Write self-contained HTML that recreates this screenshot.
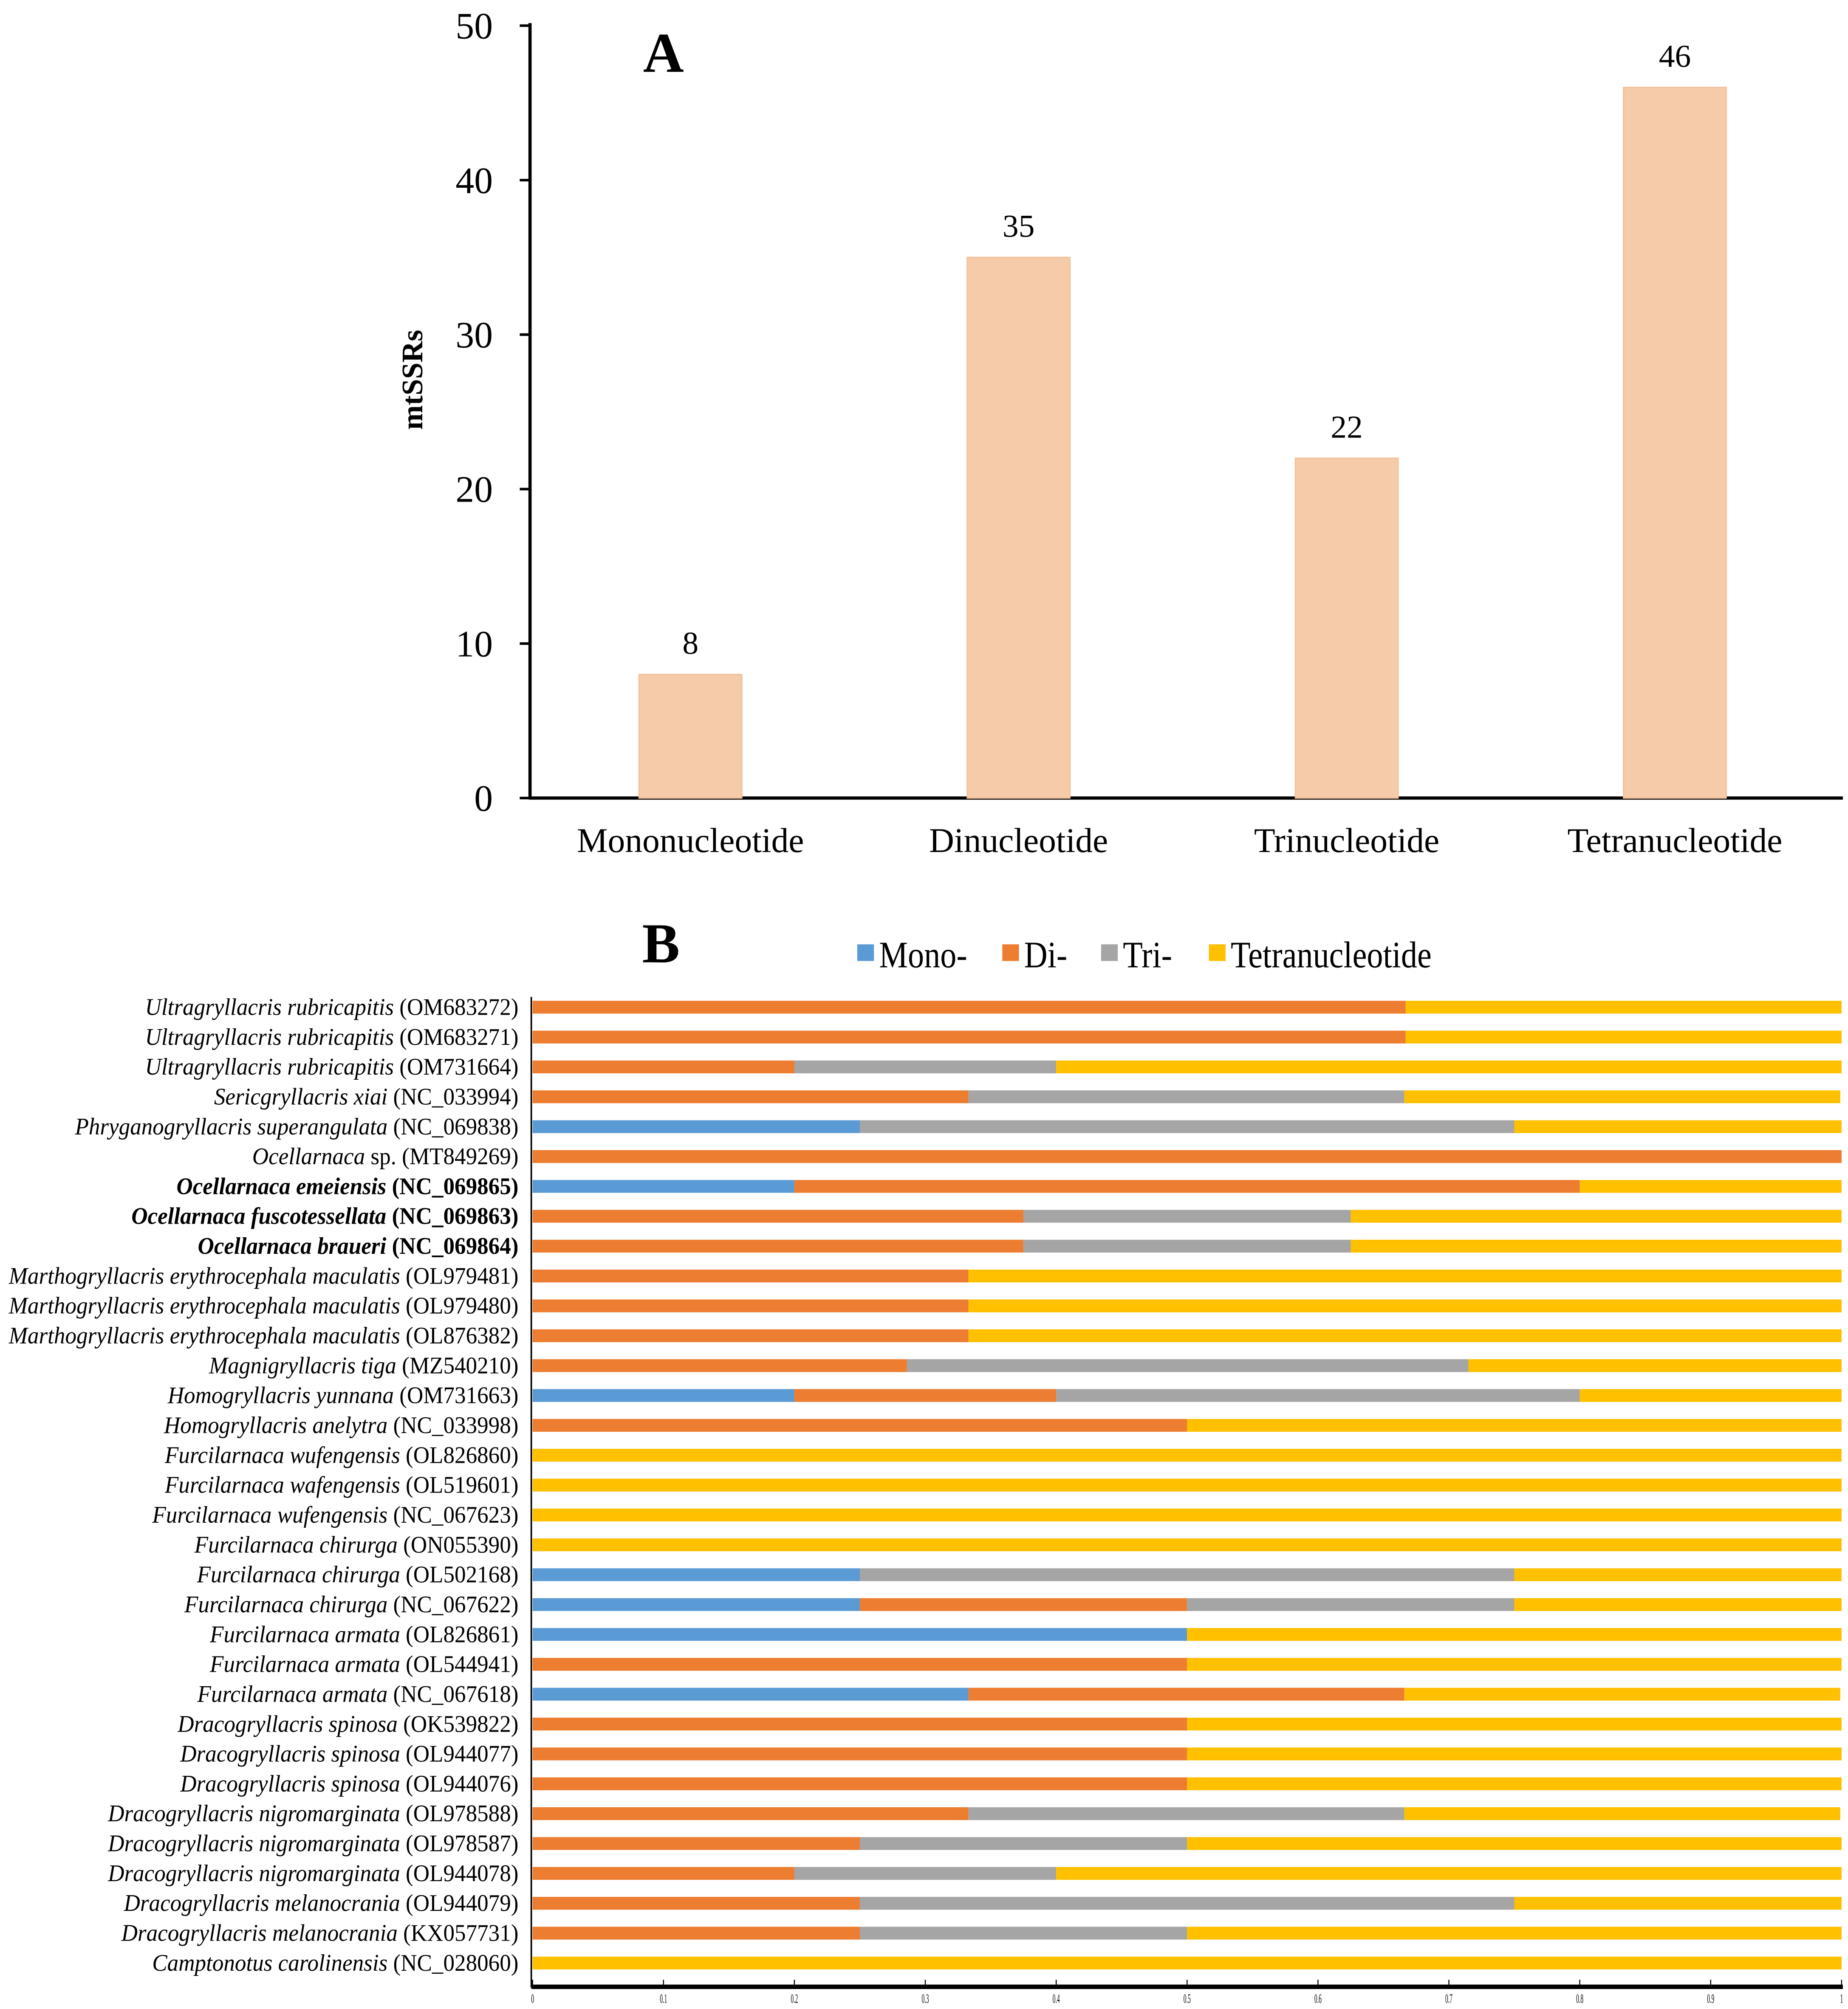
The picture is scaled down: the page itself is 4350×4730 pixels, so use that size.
<!DOCTYPE html>
<html><head><meta charset="utf-8"><style>html,body{margin:0;padding:0;background:#fff}svg{display:block}</style></head>
<body>
<svg id="fig" xmlns="http://www.w3.org/2000/svg" width="4350" height="4730" viewBox="0 0 1440 1565.8" font-family="Liberation Serif, serif">
<rect width="1440" height="1566" fill="#fff"/>
<g id="chartA"></g>
<g id="chartB"></g>
</svg>
<script>
const NS="http://www.w3.org/2000/svg";
// ---- Chart A data ----
const aCategories=["Mononucleotide","Dinucleotide","Trinucleotide","Tetranucleotide"];
const aValues=[8,35,22,46];
const aTicks=[0,10,20,30,40,50];
// ---- Chart B data ----
const bGenus=["Ultragryllacris  rubricapitis","Ultragryllacris  rubricapitis","Ultragryllacris  rubricapitis","Sericgryllacris xiai","Phryganogryllacris superangulata","Ocellarnaca","Ocellarnaca emeiensis","Ocellarnaca fuscotessellata","Ocellarnaca braueri","Marthogryllacris erythrocephala maculatis","Marthogryllacris erythrocephala maculatis","Marthogryllacris erythrocephala maculatis","Magnigryllacris tiga","Homogryllacris yunnana","Homogryllacris anelytra","Furcilarnaca wufengensis","Furcilarnaca wafengensis","Furcilarnaca wufengensis","Furcilarnaca chirurga","Furcilarnaca chirurga","Furcilarnaca chirurga","Furcilarnaca armata","Furcilarnaca armata","Furcilarnaca armata","Dracogryllacris spinosa","Dracogryllacris spinosa","Dracogryllacris spinosa","Dracogryllacris nigromarginata","Dracogryllacris nigromarginata","Dracogryllacris nigromarginata","Dracogryllacris melanocrania","Dracogryllacris melanocrania","Camptonotus carolinensis"];
const bAccession=[" (OM683272)"," (OM683271)"," (OM731664)"," (NC_033994)"," (NC_069838)"," sp. (MT849269)"," (NC_069865)"," (NC_069863)","  (NC_069864)","  (OL979481)"," (OL979480)"," (OL876382)"," (MZ540210)"," (OM731663)"," (NC_033998)"," (OL826860)"," (OL519601)"," (NC_067623)"," (ON055390)"," (OL502168)"," (NC_067622)"," (OL826861)"," (OL544941)"," (NC_067618)"," (OK539822)"," (OL944077)"," (OL944076)"," (OL978588)"," (OL978587)"," (OL944078)"," (OL944079)"," (KX057731)"," (NC_028060)"];
const bBold=[6,7,8];
const mono=[0,0,0,0,.25,0,.2,0,0,0,0,0,0,.2,0,0,0,0,0,.25,.25,.5,0,.333,0,0,0,0,0,0,0,0,0];
const di=[.667,.667,.2,.333,0,1,.6,.375,.375,.333,.333,.333,.286,.2,.5,0,0,0,0,0,.25,0,.5,.333,.5,.5,.5,.333,.25,.2,.25,.25,0];
const tri=[0,0,.2,.333,.5,0,0,.25,.25,0,0,0,.429,.4,0,0,0,0,0,.5,.25,0,0,0,0,0,0,.333,.25,.2,.5,.25,0];
const tetra=[.333,.333,.6,.333,.25,0,.2,.375,.375,.667,.667,.667,.286,.2,.5,1,1,1,1,.25,.25,.5,.5,.333,.5,.5,.5,.333,.5,.6,.25,.5,1];
const seriesNames=["Mono-","Di-","Tri-","Tetranucleotide"];
const xTicksB=[0,0.1,0.2,0.3,0.4,0.5,0.6,0.7,0.8,0.9,1];

function el(tag,attrs,parent,txt){const e=document.createElementNS(NS,tag);for(const k in attrs)e.setAttribute(k,attrs[k]);if(txt!==undefined)e.textContent=txt;parent.appendChild(e);return e;}

// ---- Chart A ----
const A=document.getElementById('chartA');
const aY=v=>622-v*(602/50);
const aX=i=>538+i*255.7;
let ax=el('line',{x1:413,y1:18,x2:413,y2:623,stroke:'#000','stroke-width':2.5},A);

let axx=el('line',{x1:412,y1:622,x2:1436,y2:622,stroke:'#000','stroke-width':2.5},A);

aTicks.forEach(t=>{
  const l=el('line',{x1:405,y1:aY(t),x2:413,y2:aY(t),stroke:'#000','stroke-width':2},A);
  
  const tx=el('text',{x:384,y:aY(t)+10,'text-anchor':'end','font-size':29},A,String(t));
  
});
aValues.forEach((v,i)=>{
  const r=el('rect',{x:aX(i)-40,y:aY(v),width:80,height:622-aY(v),fill:'#f6cba9',stroke:'#f3c09a','stroke-width':1},A);
  
  const vl=el('text',{x:aX(i),y:aY(v)-16,'text-anchor':'middle','font-size':25},A,String(v));
  
  const cl=el('text',{x:aX(i),y:664,'text-anchor':'middle','font-size':27},A,aCategories[i]);
  
});
let yt=el('text',{transform:'translate(329,296) rotate(-90)','text-anchor':'middle','font-size':23,'font-weight':'bold'},A,'mtSSRs');

let pa=el('text',{x:517,y:56,'text-anchor':'middle','font-size':44,'font-weight':'bold'},A,'A');


// ---- Chart B ----
const B=document.getElementById('chartB');
const x0=415,x1=1435;
const bX=v=>x0+v*(x1-x0);
const bY=i=>785+i*23.28;
const colors=['#5b9bd5','#ed7d31','#a5a5a5','#ffc000'];
let pb=el('text',{x:515,y:750,'text-anchor':'middle','font-size':44,'font-weight':'bold'},B,'B');

const legX=[668,781,858,942];
seriesNames.forEach((n,k)=>{
  const g=el('g',{},B);
  
  el('rect',{x:legX[k],y:736,width:13,height:13,fill:colors[k]},g);
  el('text',{x:0,y:0,'font-size':29,transform:`translate(${legX[k]+17},754) scale(0.87,1)`},g,n);
});
let by=el('line',{x1:414,y1:777,x2:414,y2:1549,stroke:'#000','stroke-width':1.2},B);

let bx=el('line',{x1:414,y1:1548.5,x2:1436,y2:1548.5,stroke:'#000','stroke-width':3.5},B);

xTicksB.forEach(t=>{
  const l=el('line',{x1:bX(t),y1:1543,x2:bX(t),y2:1548,stroke:'#000','stroke-width':0.8},B);
  
  const tx=el('text',{x:0,y:0,'text-anchor':'middle','font-size':10,transform:`translate(${bX(t)},1561) scale(0.45,1)`},B,String(t));
  
});
const series=[mono,di,tri,tetra];
bGenus.forEach((g,i)=>{
  const y=bY(i);
  let acc=0;
  series.forEach((s,k)=>{
    const v=s[i];
    if(v>0){
      const end=Math.min(1,acc+v);
      const r=el('rect',{x:bX(acc),y:y-5,width:bX(end)-bX(acc),height:10,fill:colors[k]},B);
      
    }
    acc+=v;
  });
  const bold=bBold.includes(i);
  const t=el('text',{x:0,y:0,'text-anchor':'end','font-size':18.5,'font-weight':bold?'bold':'normal',transform:`translate(404,${y+6}) scale(0.95,1)`},B);
  
  el('tspan',{'font-style':'italic'},t,g);
  el('tspan',{},t,bAccession[i]);
});
</script>
</body></html>
